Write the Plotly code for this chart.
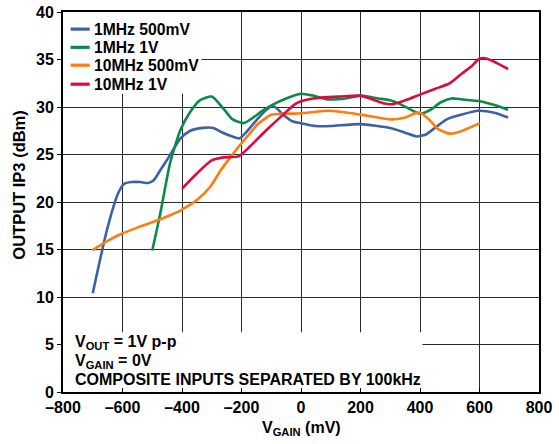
import plotly.graph_objects as go

# ---- data ----
blue_name = "1MHz 500mV"
blue_x = [-700, -652, -615, -595, -570, -540, -515, -495, -470, -445, -405, -372, -330, -295, -270, -240,
          -207, -180, -150, -120, -93, -60, -30, 0, 50, 100, 200, 300, 350, 388, 420, 450, 490, 540, 595, 650, 696]
blue_y = [10.4, 17.1, 20.9, 21.9, 22.1, 22.1, 22.0, 22.3, 23.5, 24.7, 26.7, 27.5, 27.8, 27.8, 27.4, 27.0,
          26.7, 27.5, 28.6, 29.6, 30.1, 29.2, 28.5, 28.3, 28.0, 28.0, 28.2, 27.8, 27.3, 26.9, 27.1, 27.8, 28.7, 29.2, 29.6, 29.4, 28.9]

green_name = "1MHz 1V"
green_x = [-500, -473, -440, -405, -372, -340, -300, -260, -230, -193, -160, -130, -98, -50, 0, 40, 90, 150,
           200, 260, 300, 340, 370, 400, 435, 470, 506, 540, 601, 650, 696]
green_y = [14.9, 18.8, 24.1, 27.6, 29.5, 30.7, 31.1, 29.8, 28.7, 28.3, 28.9, 29.6, 30.2, 30.9, 31.4, 31.2, 30.8, 30.9,
           31.2, 30.9, 30.7, 30.2, 29.7, 29.3, 29.7, 30.5, 30.9, 30.8, 30.6, 30.2, 29.7]

orange_name = "10MHz 500mV"
orange_x = [-702, -650, -607, -550, -479, -440, -406, -350, -305, -271, -240, -205, -170, -148, -120, -98, -60,
            -20, 20, 98, 200, 299, 350, 380, 400, 430, 460, 500, 534, 601]
orange_y = [14.9, 15.9, 16.6, 17.3, 18.1, 18.6, 19.1, 20.2, 21.6, 23.3, 24.6, 26.0, 27.3, 28.1, 28.8, 29.2, 29.3,
            29.3, 29.4, 29.6, 29.2, 28.7, 28.9, 29.3, 29.4, 28.7, 27.7, 27.2, 27.4, 28.3]

red_name = "10MHz 1V"
red_x = [-400, -350, -299, -260, -210, -170, -115, -60, -20, 0, 41, 131, 200, 276, 309, 350, 400, 450, 500,
         540, 570, 601, 623, 660, 696]
red_y = [21.4, 23.0, 24.4, 24.7, 24.8, 25.9, 27.6, 29.2, 30.3, 30.6, 30.9, 31.1, 31.2, 30.4, 30.3, 30.7, 31.3, 31.9, 32.5,
         33.5, 34.2, 35.1, 35.1, 34.6, 34.0]

x_ticks = [-800, -600, -400, -200, 0, 200, 400, 600, 800]
x_tick_labels = ["\u2013800", "\u2013600", "\u2013400", "\u2013200", "0", "200", "400", "600", "800"]
y_ticks = [0, 5, 10, 15, 20, 25, 30, 35, 40]

x_title = "V<sub>GAIN</sub> (mV)"
y_title = "OUTPUT IP3 (dBm)"
note_lines = ["V<sub>OUT</sub> = 1V p-p", "V<sub>GAIN</sub> = 0V", "COMPOSITE INPUTS SEPARATED BY 100kHz"]

# ---- styling ----
FONT = "Liberation Sans, Arial, Helvetica, sans-serif"
colors = ["#3D62A4", "#0B8B47", "#FF7C0F", "#DC0B3E"]
series = [
    (blue_name, blue_x, blue_y),
    (green_name, green_x, green_y),
    (orange_name, orange_x, orange_y),
    (red_name, red_x, red_y),
]

fig = go.Figure()
for (name, xs, ys), col in zip(series, colors):
    fig.add_trace(go.Scatter(x=xs, y=ys, name=name, mode="lines", showlegend=False,
                             line=dict(color=col, width=2.6, shape="spline", smoothing=0.6)))

# white boxes hiding the grid behind the legend and the note
fig.add_shape(type="rect", xref="x", yref="y", x0=-800, x1=-335, y0=31.4, y1=40,
              fillcolor="white", line_width=0, layer="between")
fig.add_shape(type="rect", xref="x", yref="y", x0=-800, x1=408, y0=0, y1=6.3,
              fillcolor="white", line_width=0, layer="between")

# legend drawn by hand (short line samples, tight rows)
legend_rows = [0.955, 0.907, 0.860, 0.810]
for (name, _, _), col, yy in zip(series, colors, legend_rows):
    fig.add_shape(type="line", xref="paper", yref="paper", x0=0.016, x1=0.056, y0=yy, y1=yy,
                  line=dict(color=col, width=3.2), layer="above")
    fig.add_annotation(text=name, xref="paper", yref="paper", x=0.061, y=yy,
                       xanchor="left", yanchor="middle", showarrow=False,
                       font=dict(family=FONT, size=15.7, color="black", weight="bold"))

note_y = [0.129, 0.079, 0.034]
for txt, yy in zip(note_lines, note_y):
    fig.add_annotation(text=txt, xref="paper", yref="paper", x=0.02, y=yy,
                       xanchor="left", yanchor="middle", showarrow=False,
                       font=dict(family=FONT, size=16, color="black", weight="bold"))

fig.add_annotation(text=x_title, xref="paper", yref="paper", x=0.5, y=-0.095,
                   xanchor="center", yanchor="middle", showarrow=False,
                   font=dict(family=FONT, size=16, color="black", weight="bold"))
fig.add_annotation(text=y_title, xref="paper", yref="paper", x=-0.093, y=0.545, textangle=-90,
                   xanchor="center", yanchor="middle", showarrow=False,
                   font=dict(family=FONT, size=16.5, color="black", weight="bold"))

axis_common = dict(showline=True, linecolor="black", linewidth=2, mirror=True, automargin=False,
                   showgrid=True, gridcolor="#2b2b2b", gridwidth=1.4, zeroline=False,
                   tickfont=dict(family=FONT, size=16, color="black", weight="bold"),
                   ticklen=4, tickcolor="black", tickwidth=1.2)

fig.update_xaxes(range=[-800, 800], tickvals=x_ticks, ticktext=x_tick_labels, ticks="inside",
                 **axis_common)
fig.update_yaxes(range=[0, 40], tickvals=y_ticks, ticks="outside",
                 **axis_common)

fig.update_layout(
    width=559, height=444,
    margin=dict(l=62.5, r=20, t=12, b=52),
    paper_bgcolor="white", plot_bgcolor="white",
    font=dict(family=FONT, color="black"),
    showlegend=False,
)

# remove the browser's default 8 px body margin so the figure fills the window
fig.write_html("out.html", config={"displayModeBar": False},
               post_script="document.body.style.margin='0';")
